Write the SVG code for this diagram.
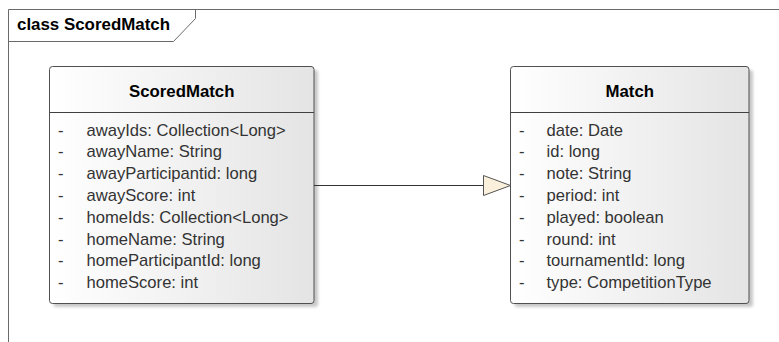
<svg xmlns="http://www.w3.org/2000/svg" width="779" height="342" viewBox="0 0 779 342">
  <defs>
    <linearGradient id="boxFill" x1="0" y1="0" x2="1" y2="0">
      <stop offset="0" stop-color="#ffffff"/>
      <stop offset="1" stop-color="#e4e4e4"/>
    </linearGradient>
    <filter id="soft" x="-10%" y="-10%" width="120%" height="120%">
      <feGaussianBlur stdDeviation="1.5"/>
    </filter>
  </defs>
  <style>
    .frame { fill: none; stroke: #6a6a6a; stroke-width: 1; }
    .box { fill: url(#boxFill); stroke: #505050; stroke-width: 1; }
    .shadow { fill: #c8c8c8; filter: url(#soft); }
    .sep { stroke: #404040; stroke-width: 1; }
    .title { font-family: "Liberation Sans", Arial, sans-serif; font-size: 16.8px; font-weight: bold; fill: #000; }
    .attr { font-family: "Liberation Sans", Arial, sans-serif; font-size: 16.6px; fill: #333; }
    .edge { stroke: #333; stroke-width: 1; fill: none; }
    .gen { fill: #fbf0dc; stroke: #555; stroke-width: 1; }
  </style>

  <rect width="779" height="342" fill="#ffffff"/>

  <!-- diagram frame with name tab -->
  <g id="frame">
    <path class="frame" d="M8.5,342 V9.5 H779"/>
    <path class="frame" d="M8.5,41.5 H173.5 L195.5,18.5 V9.5"/>
    <text class="title" x="17" y="29.5" style="font-size:16.9px">class ScoredMatch</text>
  </g>

  <!-- ScoredMatch class -->
  <g id="ScoredMatch">
    <rect class="shadow" x="53.5" y="70" width="264.5" height="237" rx="3"/>
    <rect class="box" x="49.5" y="66.5" width="264.5" height="237" rx="3"/>
    <line class="sep" x1="49.5" y1="112.5" x2="314" y2="112.5"/>
    <text class="title" x="181.75" y="97" text-anchor="middle">ScoredMatch</text>
    <g class="attr">
      <text x="58" y="135.5">-</text><text x="86.5" y="135.5">awayIds: Collection&lt;Long&gt;</text>
      <text x="58" y="157.3">-</text><text x="86.5" y="157.3">awayName: String</text>
      <text x="58" y="179.1">-</text><text x="86.5" y="179.1">awayParticipantid: long</text>
      <text x="58" y="200.9">-</text><text x="86.5" y="200.9">awayScore: int</text>
      <text x="58" y="222.7">-</text><text x="86.5" y="222.7">homeIds: Collection&lt;Long&gt;</text>
      <text x="58" y="244.5">-</text><text x="86.5" y="244.5">homeName: String</text>
      <text x="58" y="266.3">-</text><text x="86.5" y="266.3">homeParticipantId: long</text>
      <text x="58" y="288.1">-</text><text x="86.5" y="288.1">homeScore: int</text>
    </g>
  </g>

  <!-- Match class -->
  <g id="Match">
    <rect class="shadow" x="514.5" y="70" width="238.5" height="237" rx="3"/>
    <rect class="box" x="510.5" y="66.5" width="238.5" height="237" rx="3"/>
    <line class="sep" x1="510.5" y1="112.5" x2="749" y2="112.5"/>
    <text class="title" x="629.75" y="97" text-anchor="middle">Match</text>
    <g class="attr">
      <text x="519" y="135.5">-</text><text x="546.5" y="135.5">date: Date</text>
      <text x="519" y="157.3">-</text><text x="546.5" y="157.3">id: long</text>
      <text x="519" y="179.1">-</text><text x="546.5" y="179.1">note: String</text>
      <text x="519" y="200.9">-</text><text x="546.5" y="200.9">period: int</text>
      <text x="519" y="222.7">-</text><text x="546.5" y="222.7">played: boolean</text>
      <text x="519" y="244.5">-</text><text x="546.5" y="244.5">round: int</text>
      <text x="519" y="266.3">-</text><text x="546.5" y="266.3">tournamentId: long</text>
      <text x="519" y="288.1">-</text><text x="546.5" y="288.1">type: CompetitionType</text>
    </g>
  </g>

  <!-- generalization: ScoredMatch extends Match -->
  <g id="connectors">
    <line class="edge" x1="314" y1="185.5" x2="483.5" y2="185.5"/>
    <polygon class="gen" points="483.5,175.5 510.5,185.5 483.5,195.5"/>
  </g>
</svg>
